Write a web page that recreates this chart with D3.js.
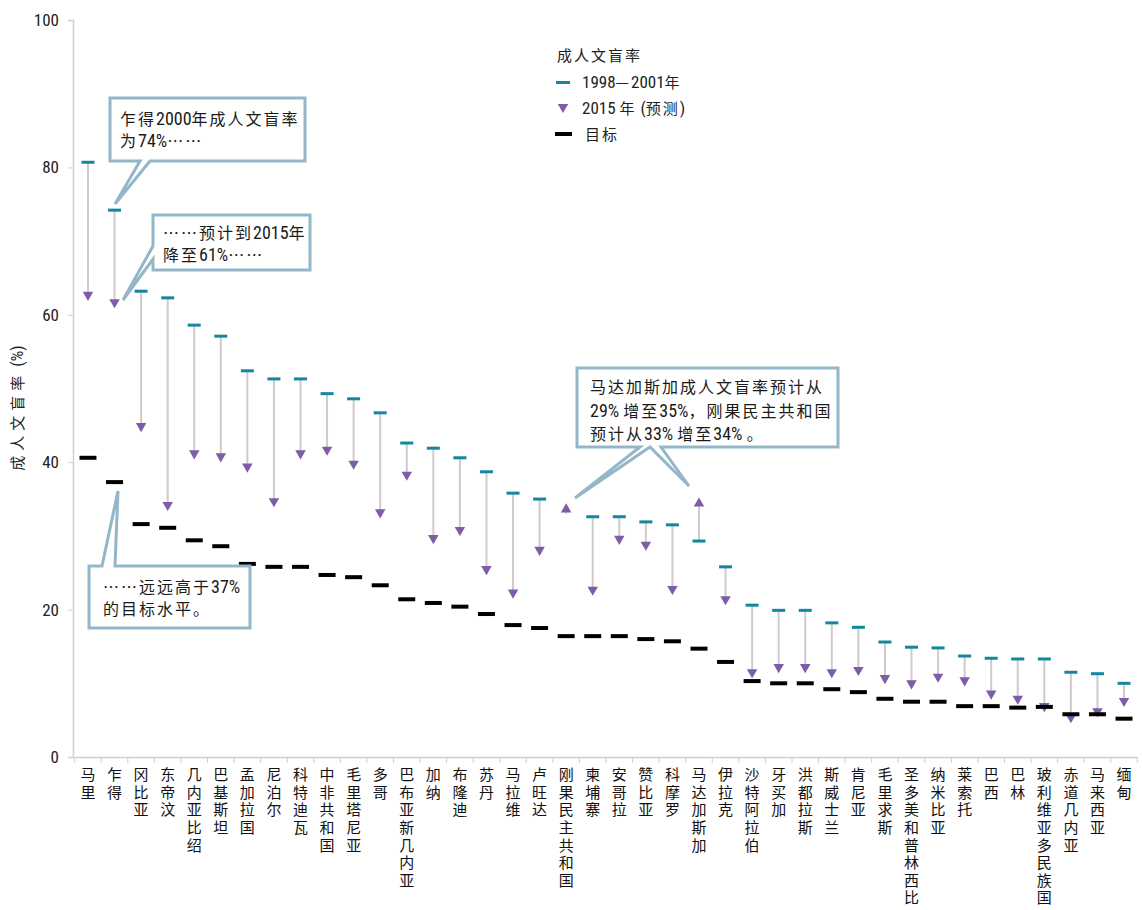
<!DOCTYPE html>
<html><head><meta charset="utf-8">
<script src="https://cdn.jsdelivr.net/npm/d3@7"></script>
<style>
html,body{margin:0;padding:0;background:#fff;}
svg{display:block;}
.vlab{writing-mode:vertical-rl;text-orientation:upright;}
</style></head>
<body>
<svg id="chart" width="1142" height="910"></svg>
<script>
const countries = ["马里","乍得","冈比亚","东帝汶","几内亚比绍","巴基斯坦","孟加拉国","尼泊尔","科特迪瓦","中非共和国","毛里塔尼亚","多哥","巴布亚新几内亚","加纳","布隆迪","苏丹","马拉维","卢旺达","刚果民主共和国","柬埔寨","安哥拉","赞比亚","科摩罗","马达加斯加","伊拉克","沙特阿拉伯","牙买加","洪都拉斯","斯威士兰","肯尼亚","毛里求斯","圣多美和普林西比","纳米比亚","莱索托","巴西","巴林","玻利维亚多民族国","赤道几内亚","马来西亚","缅甸"];
const rate2000 = [80.7,74.2,63.2,62.3,58.6,57.1,52.4,51.3,51.3,49.3,48.6,46.7,42.6,41.9,40.6,38.7,35.8,35.0,33.0,32.6,32.6,31.9,31.5,29.3,25.8,20.6,19.9,19.9,18.2,17.6,15.6,14.9,14.8,13.7,13.4,13.3,13.3,11.5,11.3,10.0];
const rate2015 = [62.7,61.7,44.9,34.2,41.2,40.8,39.4,34.7,41.2,41.7,39.8,33.2,38.3,29.7,30.8,25.5,22.3,28.1,33.6,22.7,29.6,28.8,22.8,34.4,21.4,11.5,12.2,12.2,11.5,11.8,10.7,10.0,10.9,10.4,8.6,7.9,6.9,5.4,6.2,7.6];
const target = [40.6,37.3,31.6,31.1,29.4,28.6,26.2,25.8,25.8,24.7,24.4,23.3,21.4,20.9,20.4,19.4,17.9,17.5,16.4,16.4,16.4,16.0,15.7,14.7,12.9,10.3,10.0,10.0,9.2,8.8,7.9,7.5,7.5,6.9,6.9,6.7,6.8,5.8,5.8,5.2];
const yTicks = [0,20,40,60,80,100];
const yTitle = "成人文盲率 (%)";
const legendTitle = "成人文盲率";
const legendLabels = ["1998—2001年","2015 年 (预测)","目标"];
const callouts = [
  ["乍得2000年成人文盲率","为74%……"],
  ["……预计到2015年","降至61%……"],
  ["……远远高于37%","的目标水平。"],
  ["马达加斯加成人文盲率预计从","29% 增至35%，刚果民主共和国","预计从33% 增至34% 。"]
];

const TEAL = "#14879f", PURPLE = "#7c5da6", LINE = "#d2c9cd", BORDER = "#93b7c9";
const CJK = "'Noto Sans CJK SC','Noto Sans',sans-serif";
const NARROW = "'Liberation Sans Narrow','Roboto Condensed','Arial Narrow','Liberation Sans',sans-serif";

const svg = d3.select("#chart");
const data = countries.map((c,i)=>({c, a:rate2000[i], b:rate2015[i], t:target[i]}));

const x = d3.scaleBand().domain(countries).range([74.7,1137.3]).padding(0);
const y = d3.scaleLinear().domain([0,100]).range([757,20]);
const cx = c => x(c)+x.bandwidth()/2;

function richText(sel, str, size, ls){
  const runs = str.match(/[\x20-\x7E]+|[^\x20-\x7E]+/g) || [];
  runs.forEach(r=>{
    const ascii = /^[\x20-\x7E]+$/.test(r);
    sel.append("tspan")
      .attr("font-family", ascii ? NARROW : CJK)
      .attr("font-size", ascii ? size+2 : size)
      .attr("letter-spacing", ascii ? 0 : (ls==null?2:ls))
      .text(r);
  });
}

// Y axis
const yAxis = svg.append("g").attr("transform","translate(73,0)")
  .call(d3.axisLeft(y).tickValues(yTicks).tickSize(5).tickPadding(9));
yAxis.select(".domain").attr("stroke","#cfcfcf").attr("stroke-width",1.5);
yAxis.selectAll(".tick line").attr("stroke","#cfcfcf");
yAxis.selectAll(".tick text").attr("font-family",NARROW).attr("font-size",17).attr("fill","#222");

// X axis
const xAxis = svg.append("g").attr("transform","translate(0,757)")
  .call(d3.axisBottom(x).tickSize(0).tickPadding(0));
xAxis.select(".domain").attr("stroke","#cfcfcf").attr("stroke-width",1.5);
xAxis.selectAll(".tick line").remove();
const edges = countries.map(c=>x(c)).concat([x(countries[countries.length-1])+x.bandwidth()]);
xAxis.selectAll(".edge").data(edges).enter().append("line")
  .attr("x1",d=>d).attr("x2",d=>d).attr("y1",0).attr("y2",6).attr("stroke","#cfcfcf");
xAxis.selectAll(".tick text")
  .attr("class","vlab")
  .attr("font-family",CJK).attr("font-size",15).attr("fill","#111")
  .attr("letter-spacing",2.6)
  .attr("text-anchor","start")
  .attr("x",0).attr("y",10).attr("dy",null);

// y title
svg.append("text").attr("transform","translate(23,408) rotate(-90)")
  .attr("text-anchor","middle").attr("fill","#222").call(s=>richText(s,yTitle,15,5));

// connecting lines
svg.append("g").selectAll("line").data(data).enter().append("line")
  .attr("x1",d=>cx(d.c)).attr("x2",d=>cx(d.c))
  .attr("y1",d=>y(d.a)).attr("y2",d=>y(d.b))
  .attr("stroke",LINE).attr("stroke-width",2);

// teal dashes (hidden where the 2015 marker covers them)
svg.append("g").selectAll("rect").data(data.filter(d=>Math.abs(d.a-d.b)>=1)).enter().append("rect")
  .attr("x",d=>cx(d.c)-6.5).attr("y",d=>y(d.a)-1.5)
  .attr("width",13).attr("height",3).attr("fill",TEAL);

// triangles
const tri = d3.symbol().type(d3.symbolTriangle).size(48);
svg.append("g").selectAll("path").data(data).enter().append("path")
  .attr("d",tri)
  .attr("transform",d=>`translate(${cx(d.c)},${y(d.b)}) rotate(${d.b>d.a?0:180})`)
  .attr("fill",PURPLE);

// target dashes
svg.append("g").selectAll("rect").data(data).enter().append("rect")
  .attr("x",d=>cx(d.c)-8.5).attr("y",d=>y(d.t)-2)
  .attr("width",17).attr("height",4).attr("fill","#000");

// Legend
const lg = svg.append("g");
lg.append("text").attr("x",557).attr("y",61).attr("fill","#222").call(s=>richText(s,legendTitle,15));
lg.append("rect").attr("x",556).attr("y",81).attr("width",14).attr("height",3).attr("fill",TEAL);
lg.append("path").attr("d",tri).attr("transform","translate(563,107) rotate(180)").attr("fill",PURPLE);
lg.append("rect").attr("x",555).attr("y",132).attr("width",17).attr("height",4).attr("fill","#000");
[88,114,140].forEach((yy,i)=>{
  lg.append("text").attr("x", i===2?585:582).attr("y",yy).attr("fill","#222").call(s=>richText(s,legendLabels[i],15));
});

// Callouts
const shapes = [
  "M110,98 H305 V161 H150 L115,204 L140,161 H110 Z",
  "M153,215 H310 V270 H153 V259 L123,300 L153,246 Z",
  "M89,566 H102 L118,491 L115,566 H250 V628 H89 Z",
  "M577,368 H838 V447 H661 L689,486 L650,447 L575,498 L640,447 H577 Z"
];
const textPos = [[120,125,22],[163,239,22],[103,593,22],[590,393,23.5]];
shapes.forEach((p,i)=>{
  svg.append("path").attr("d",p).attr("fill","#fff").attr("stroke",BORDER).attr("stroke-width",3).attr("stroke-linejoin","miter");
  callouts[i].forEach((ln,j)=>{
    svg.append("text").attr("x",textPos[i][0]).attr("y",textPos[i][1]+j*textPos[i][2])
      .attr("fill","#1a1a1a").call(s=>richText(s,ln,16));
  });
});
</script>
</body></html>
